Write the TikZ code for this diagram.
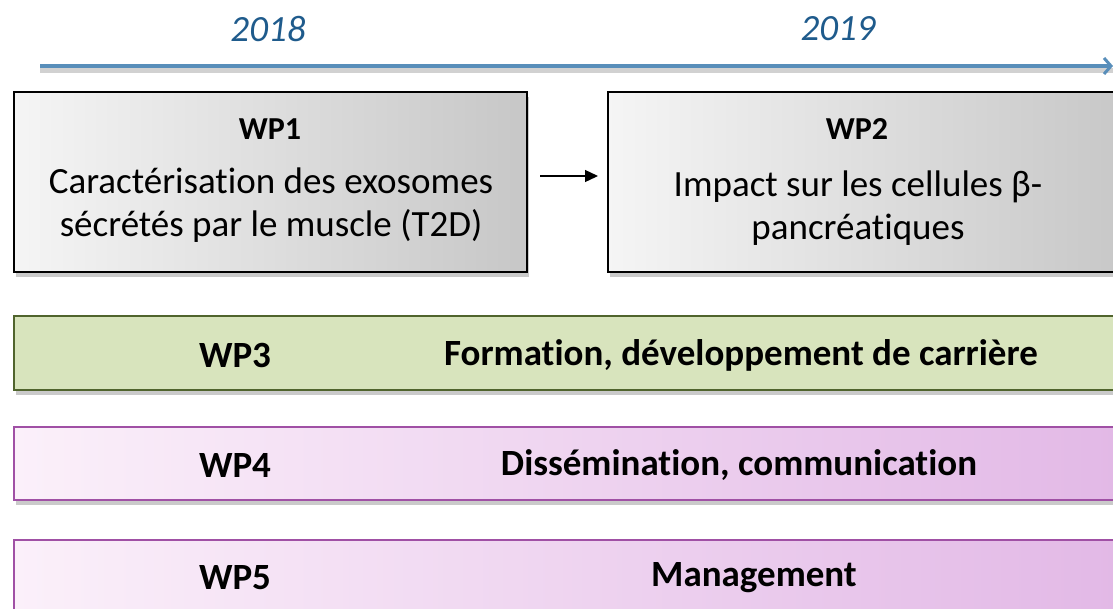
\documentclass[tikz,border=0pt]{standalone}
\usepackage{fontspec}
\setmainfont{Carlito}[Ligatures=CommonOff]
\usetikzlibrary{shadows,arrows.meta}
\definecolor{yearblue}{RGB}{31,91,140}
\definecolor{lineblue}{RGB}{88,142,186}
\definecolor{greenfill}{RGB}{216,228,189}
\definecolor{greenline}{RGB}{80,100,45}
\definecolor{pinkL}{RGB}{251,240,250}
\definecolor{pinkR}{RGB}{226,184,230}
\definecolor{purpleline}{RGB}{160,80,165}
\tikzset{
  sh/.style={drop shadow={shadow xshift=2pt,shadow yshift=-5pt,opacity=0.35,fill=black!60}},
  graybox/.style={sh,draw=black,line width=1.4pt,left color=black!4,right color=black!22,rectangle},
  greenbox/.style={sh,draw=greenline,line width=1.2pt,fill=greenfill,rectangle},
  pinkbox/.style={sh,draw=purpleline,line width=1.2pt,left color=pinkL,right color=pinkR,rectangle},
  year/.style={font=\fontsize{37}{42}\selectfont\itshape,text=yearblue},
  wptitle/.style={font=\fontsize{32}{36}\selectfont\bfseries},
  wptext/.style={font=\fontsize{37}{43}\selectfont,align=center},
  rowtext/.style={font=\fontsize{37}{41}\selectfont\bfseries},
}
\begin{document}
\begin{tikzpicture}[x=1pt,y=-1pt]
\useasboundingbox (0,0) rectangle (1113,608);
\clip (0,0) rectangle (1113,608);
% timeline
\coordinate (tl0) at (40,66);
\coordinate (tl1) at (1113,66);
\draw[lineblue,line width=4pt,-{Straight Barb[length=7pt,width=16pt,line width=3pt]},
  preaction={draw=black!18,line width=5pt,transform canvas={yshift=-4pt},-}] (tl0) -- (tl1);
\node[year] (y1) at (268,29) {2018};
\node[year] (y2) at (838,29) {2019};
% WP1, WP2
\path[graybox] (14,92) rectangle (527,272);
\node[wptitle] (t1) at (270,129) {WP1};
\node[wptext] (d1) at (271,205) {Caractérisation des exosomes\\sécrétés par le muscle (T2D)};
\path[graybox] (608,92) rectangle (1130,272);
\node[wptitle] (t2) at (857,129) {WP2};
\node[wptext] (d2) at (858,208) {Impact sur les cellules β-\\pancréatiques};
\coordinate (a0) at (540,176);
\coordinate (a1) at (598,176);
\draw[line width=1.3pt,-{Triangle[length=13pt,width=12pt]}] (a0) -- (a1);
% WP3
\path[greenbox] (14,316) rectangle (1130,390);
\node[rowtext] (t3) at (235,355) {WP3};
\node[rowtext] (d3) at (741,355) {Formation, développement de carrière};
% WP4
\path[pinkbox] (14,427) rectangle (1130,500);
\node[rowtext] (t4) at (235,465) {WP4};
\node[rowtext] (d4) at (739,465) {Dissémination, communication};
% WP5
\path[pinkbox] (14,540) rectangle (1130,620);
\node[rowtext] (t5) at (235,578) {WP5};
\node[rowtext] (d5) at (754,578) {Management};
\end{tikzpicture}
\end{document}
